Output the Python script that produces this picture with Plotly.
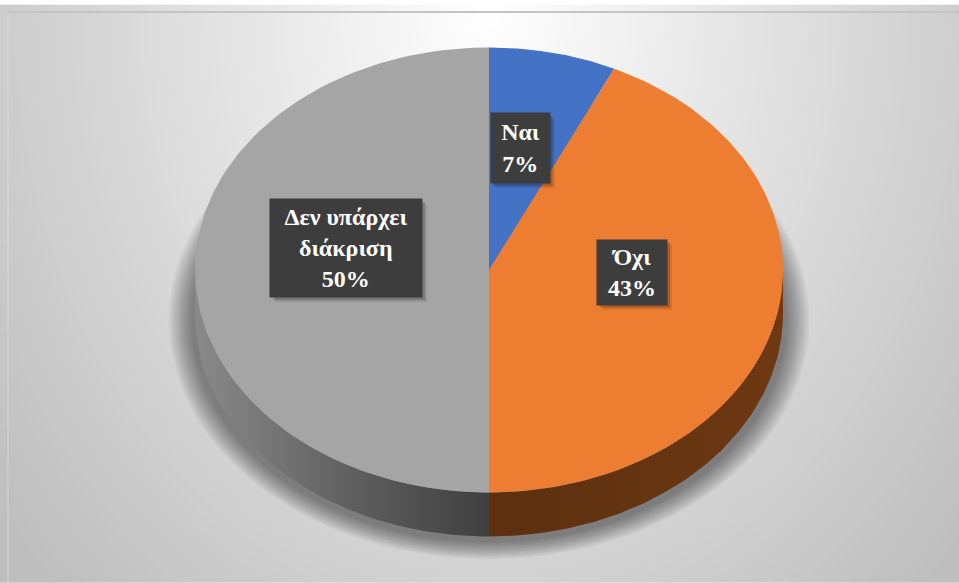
import textwrap
import numpy as np
import plotly.graph_objects as go

# Survey answers and their shares (%)
categories = ["Ναι", "Όχι", "Δεν υπάρχει διάκριση"]
values = [7, 43, 50]
top_colors = ["#4472c4", "#ed7d31", "#a5a5a5"]
side_scales = [
    [[0, "#24407a"], [1, "#2f5597"]],
    [[0, "#5c2f0f"], [1, "#6e3913"]],
    [[0, "#8a8a8a"], [0.6, "#5a5a5a"], [1, "#3f3f3f"]],
]

W, H = 959, 583
# pie geometry in page pixels (tilted disc)
CX, CY, RX, RY, DEPTH = 489, 270, 294, 222.5, 44
# label box centres and sizes (px)
label_pos = [(520, 148), (632, 272), (346, 248)]
label_box = [(59, 70), (70, 65), (152, 98)]
PAD = 4


def rim(t0, t1, dy=0.0, rx=RX, ry=RY, n=120):
    t = np.radians(np.linspace(t0, t1, n))
    return CX + rx * np.sin(t), CY + dy - ry * np.cos(t)


fig = go.Figure()

# background: soft radial light falling off to grey
gx = np.linspace(8, W, 60)
gy = np.linspace(12, H, 40)
XX, YY = np.meshgrid(gx, gy)
d = np.sqrt(((XX - CX) / 480) ** 2 + ((YY - 10) / 620) ** 2)
shade = np.clip(255 - 50 * d, 190, 255)
fig.add_trace(go.Heatmap(
    x=gx, y=gy, z=shade, zmin=0, zmax=255, zsmooth="best",
    colorscale=[[0, "rgb(0,0,0)"], [1, "rgb(255,255,255)"]],
    showscale=False, hoverinfo="skip"))

# soft shadow under the disc
for e in range(0, 30, 2):
    xs, ys = rim(0, 360, dy=DEPTH + 6, rx=RX + 4 + e * 0.8, ry=RY + e * 0.6)
    fig.add_trace(go.Scatter(
        x=xs, y=ys, mode="lines",
        fill="toself", fillcolor="rgba(0,0,0,0.03)", line=dict(width=0),
        hoverinfo="skip", showlegend=False))

# slice angles (clockwise from 12 o'clock)
total = sum(values)
bounds = np.cumsum([0] + values) / total * 360

# visible side walls (front half: 90..270 degrees)
for i in range(len(values)):
    a0, a1 = max(bounds[i], 90), min(bounds[i + 1], 270)
    if a1 <= a0:
        continue
    tx, ty = rim(a0, a1)
    bx, by = rim(a1, a0, dy=DEPTH)
    fig.add_trace(go.Scatter(
        x=np.concatenate([tx, bx, tx[:1]]), y=np.concatenate([ty, by, ty[:1]]),
        mode="lines", fill="toself", line=dict(width=0),
        fillgradient=dict(type="horizontal", colorscale=side_scales[i]),
        hoverinfo="skip", showlegend=False))

# top faces
for i in range(len(values)):
    tx, ty = rim(bounds[i], bounds[i + 1])
    fig.add_trace(go.Scatter(
        x=np.concatenate([[CX], tx, [CX]]), y=np.concatenate([[CY], ty, [CY]]),
        mode="lines", fill="toself", fillcolor=top_colors[i],
        line=dict(width=0), hoverinfo="skip", showlegend=False))

# data labels in dark boxes with a drop shadow
for name, v, (lx, ly), (bw, bh) in zip(categories, values, label_pos, label_box):
    for s, a in ((5, 0.10), (3, 0.18)):
        fig.add_shape(type="rect", xref="x", yref="y", layer="above",
                      x0=lx - bw / 2 + s, x1=lx + bw / 2 + s,
                      y0=ly - bh / 2 + s, y1=ly + bh / 2 + s,
                      fillcolor=f"rgba(0,0,0,{a})", line=dict(width=0))
    text = "<br>".join(textwrap.wrap(name, 12)) + f"<br>{v}%"
    fig.add_annotation(x=lx, y=ly, xref="x", yref="y", text=text,
                       showarrow=False, width=bw - 2 * PAD, height=bh - 2 * PAD,
                       valign="middle",
                       font=dict(family="Liberation Serif", size=24,
                                 color="white", weight="bold"),
                       bgcolor="#3d3d3d", borderpad=PAD)

# chart frame line along the top and left
fig.add_shape(type="line", x0=8, x1=W, y0=12, y1=12, xref="x", yref="y",
              line=dict(color="#c4c4c4", width=2))
fig.add_shape(type="line", x0=8, x1=8, y0=12, y1=H, xref="x", yref="y",
              line=dict(color="#d6d6d6", width=1))

fig.update_layout(
    width=W, height=H, margin=dict(l=0, r=0, t=0, b=0),
    paper_bgcolor="white", plot_bgcolor="white", showlegend=False,
    xaxis=dict(range=[0, W], visible=False, fixedrange=True),
    yaxis=dict(range=[H, 0], visible=False, fixedrange=True),
)
fig.write_html("out.html")
